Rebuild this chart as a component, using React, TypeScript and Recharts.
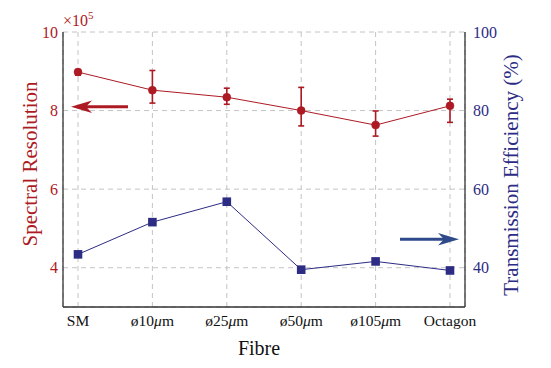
import { CartesianGrid, ErrorBar, Line, LineChart, XAxis, YAxis } from 'recharts'

const FIBRES = ['SM', 'ø10μm', 'ø25μm', 'ø50μm', 'ø105μm', 'Octagon']
const RESOLUTION = [8.98, 8.52, 8.34, 8.0, 7.63, 8.12] // ×10^5
const RES_ERR_LOW = [0.08, 0.33, 0.18, 0.39, 0.28, 0.42]
const RES_ERR_HIGH = [0.06, 0.5, 0.23, 0.59, 0.36, 0.17]
const EFFICIENCY = [43.4, 51.6, 56.8, 39.5, 41.6, 39.3] // %
const LEFT_TICKS = [4, 6, 8, 10]
const RIGHT_TICKS = [40, 60, 80, 100]

const RED = '#ad1a24'
const BLUE = '#2c2c84'
const FRAME = '#333333'
const GRID = '#c4c4c4'
const FONT = 'Liberation Serif'

const W = 551
const H = 368

function FibreTick({ x, y, payload }: any) {
  const parts = String(payload.value).split('μ')
  return (
    <text x={x} y={y} dy="0.71em" textAnchor="middle" fontFamily={FONT} fontSize={15.5} fill="#111">
      {parts.length > 1 ? (
        <>
          <tspan>{parts[0]}</tspan>
          <tspan fontStyle="italic">μ</tspan>
          <tspan>{parts[1]}</tspan>
        </>
      ) : (
        payload.value
      )}
    </text>
  )
}

function LeftTick({ x, y, payload }: any) {
  return (
    <text x={x} y={y} dy="0.35em" textAnchor="end" fontFamily={FONT} fontSize={16} fill={RED}>
      {payload.value}
    </text>
  )
}

function RightTick({ x, y, payload }: any) {
  return (
    <text x={x} y={y} dy="0.35em" textAnchor="start" fontFamily={FONT} fontSize={16} fill={BLUE}>
      {payload.value}
    </text>
  )
}

export default function App() {
  const data = FIBRES.map((f, i) => ({
    fibre: f,
    res: RESOLUTION[i],
    resErr: [RES_ERR_LOW[i], RES_ERR_HIGH[i]],
    eff: EFFICIENCY[i],
  }))

  return (
    <div style={{ position: 'absolute', left: 0, top: 0, width: W, height: H, background: 'white', fontFamily: FONT }}>
      <LineChart width={W} height={H} data={data} margin={{ top: 32, right: 56, bottom: 31, left: 33 }}>
        <CartesianGrid stroke={GRID} strokeDasharray="5 4" yAxisId="left" />
        <XAxis
          dataKey="fibre"
          scale="point"
          padding={{ left: 15, right: 15 }}
          height={30}
          tickLine={false}
          tickSize={0}
          tickMargin={8}
          tick={<FibreTick />}
          stroke={FRAME}
          strokeWidth={1.3}
          interval={0}
        />
        <XAxis
          xAxisId="top"
          dataKey="fibre"
          orientation="top"
          scale="point"
          height={0}
          tick={false}
          tickLine={false}
          stroke={FRAME}
          strokeWidth={1.3}
        />
        <YAxis
          yAxisId="left"
          domain={[3, 10]}
          ticks={LEFT_TICKS}
          width={30}
          tickLine={false}
          tickSize={0}
          tickMargin={5}
          stroke={FRAME}
          strokeWidth={1.3}
          tick={<LeftTick />}
        />
        <YAxis
          yAxisId="right"
          orientation="right"
          domain={[30, 100]}
          ticks={RIGHT_TICKS}
          width={30}
          tickLine={false}
          tickSize={0}
          tickMargin={8}
          stroke={FRAME}
          strokeWidth={1.3}
          tick={<RightTick />}
        />
        <Line
          yAxisId="left"
          dataKey="res"
          stroke={RED}
          strokeWidth={1}
          dot={{ r: 4, fill: RED, stroke: RED, strokeWidth: 0.5 }}
          isAnimationActive={false}
        >
          <ErrorBar dataKey="resErr" direction="y" width={3} stroke={RED} strokeWidth={1.6} />
        </Line>
        <Line
          yAxisId="right"
          dataKey="eff"
          stroke={BLUE}
          strokeWidth={1}
          dot={(p: any) => (
            <rect key={p.index} x={p.cx - 4.3} y={p.cy - 4.3} width={8.6} height={8.6} fill={BLUE} />
          )}
          isAnimationActive={false}
        />
      </LineChart>

      <svg width={W} height={H} style={{ position: 'absolute', left: 0, top: 0, pointerEvents: 'none' }}>
        <text x={63} y={26} fontFamily={FONT} fontSize={16} fill={RED}>
          ×10
          <tspan fontSize={11} dy={-7}>5</tspan>
        </text>
        <text
          x={0}
          y={0}
          transform="translate(37 164) rotate(-90)"
          textAnchor="middle"
          fontFamily={FONT}
          fontSize={21}
          fill={RED}
        >
          Spectral Resolution
        </text>
        <text
          x={0}
          y={0}
          transform="translate(518 175) rotate(-90)"
          textAnchor="middle"
          fontFamily={FONT}
          fontSize={21}
          fill={BLUE}
        >
          Transmission Efficiency (%)
        </text>
        <text x={259} y={355} textAnchor="middle" fontFamily={FONT} fontSize={20} fill="#111">
          Fibre
        </text>
        <line x1={128} y1={106.7} x2={80} y2={106.7} stroke={RED} strokeWidth={3} />
        <polygon points="71,106.7 92,100.5 86,106.7 92,113" fill={RED} />
        <line x1={400} y1={239.3} x2={450} y2={239.3} stroke="#2f4a8a" strokeWidth={3} />
        <polygon points="459,239.3 438,233 444,239.3 438,245.6" fill="#2f4a8a" />
      </svg>
    </div>
  )
}
